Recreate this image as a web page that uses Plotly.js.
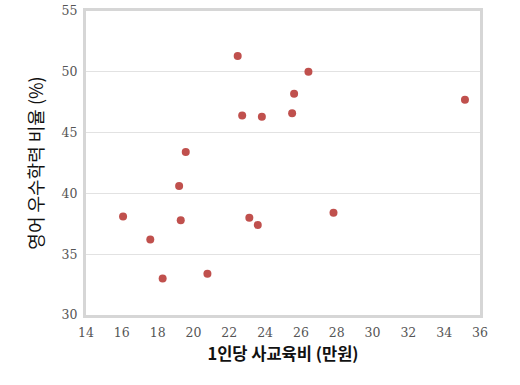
<!DOCTYPE html>
<html>
<head>
<meta charset="utf-8">
<script src="https://cdn.plot.ly/plotly-3.0.1.min.js"></script>
<style>html,body{margin:0;padding:0;background:#fff;}#chart{width:520px;height:385px;}</style>
</head>
<body>
<div id="chart"></div>
<script>
// 1인당 사교육비 (만원)
const spending = [16.07, 17.59, 18.28, 19.29, 20.78, 23.12, 23.59, 27.82, 22.47, 22.72, 23.82, 19.57, 19.20, 26.42, 25.62, 25.51, 35.16];
// 영어 우수학력 비율 (%)
const englishRate = [38.1, 36.2, 33.0, 37.8, 33.4, 38.0, 37.4, 38.4, 51.3, 46.4, 46.3, 43.4, 40.6, 50.0, 48.2, 46.6, 47.7];
const xTicks = [14, 16, 18, 20, 22, 24, 26, 28, 30, 32, 34, 36];
const yTicks = [30, 35, 40, 45, 50, 55];
const xTitle = '1인당 사교육비 (만원)';
const yTitle = '영어 우수학력 비율 (%)';

const trace = {
  x: spending, y: englishRate, type: 'scatter', mode: 'markers',
  marker: {color: '#c0504d', size: 8}, hoverinfo: 'none'
};
const tickFont = {family: 'DejaVu Serif, Liberation Serif, serif', size: 12.5, color: '#555555'};
const layout = {
  width: 520, height: 385,
  margin: {l: 86, r: 40, t: 11, b: 70},
  paper_bgcolor: '#fff', plot_bgcolor: '#fff',
  showlegend: false,
  xaxis: {
    range: [14, 36], tickvals: xTicks, ticktext: xTicks.map(String),
    showgrid: false, zeroline: false,
    showline: true, mirror: true, linecolor: '#d6d6d6', linewidth: 3,
    ticks: '', ticklen: 0, tickfont: tickFont, ticklabelstandoff: 4,
    title: {text: xTitle, font: {family: 'Noto Sans CJK KR, sans-serif', size: 16.5, color: '#111', weight: 'bold'}, standoff: 10}
  },
  yaxis: {
    range: [30, 55], tickvals: yTicks, ticktext: yTicks.map(String),
    showgrid: true, gridcolor: '#e2e2e2', gridwidth: 1, zeroline: false,
    showline: true, mirror: true, linecolor: '#d6d6d6', linewidth: 3,
    ticks: '', ticklen: 0, tickfont: tickFont, ticklabelstandoff: 3,
    title: {text: yTitle, font: {family: 'Noto Sans CJK KR, sans-serif', size: 18, color: '#111'}, standoff: 14}
  }
};
Plotly.newPlot('chart', [trace], layout, {displayModeBar: false, staticPlot: true});
</script>
</body>
</html>
